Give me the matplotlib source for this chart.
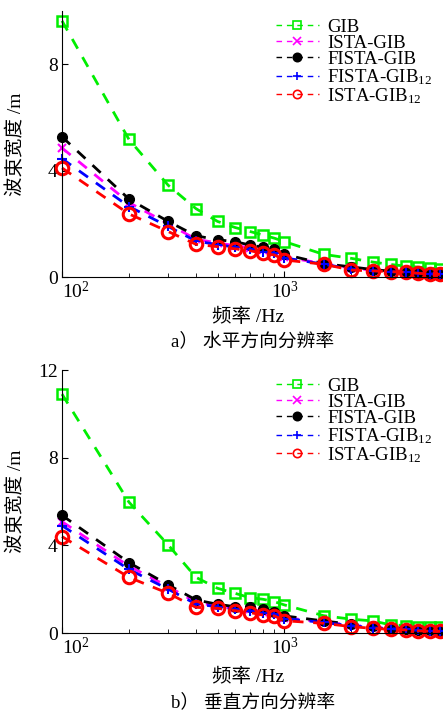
import numpy as np
import matplotlib
matplotlib.use("Agg")
import matplotlib.pyplot as plt
from matplotlib.ticker import FixedLocator, NullFormatter

plt.rcParams['font.family'] = ['Liberation Serif', 'Noto Sans CJK SC']
plt.rcParams['mathtext.fontset'] = 'custom'
plt.rcParams['mathtext.rm'] = 'Liberation Serif'
plt.rcParams['mathtext.it'] = 'Liberation Serif:italic'

# frequencies (Hz)
freq = [100, 200, 300, 400, 500, 600, 700, 800, 900, 1000,
        1500, 2000, 2500, 3000, 3500, 4000, 4500, 5000]

# a) horizontal resolution, beam width (m)
h_gib = [9.63, 5.17, 3.45, 2.57, 2.09, 1.86, 1.71, 1.58, 1.46, 1.33,
         0.85, 0.70, 0.56, 0.47, 0.41, 0.37, 0.33, 0.30]
h_ista = [4.85, 2.80, 2.00, 1.42, 1.28, 1.18, 1.10, 1.00, 0.95, 0.76,
          0.50, 0.33, 0.26, 0.21, 0.18, 0.15, 0.12, 0.10]
h_fista = [5.27, 2.93, 2.09, 1.55, 1.40, 1.33, 1.20, 1.12, 1.05, 0.85,
           0.50, 0.38, 0.28, 0.22, 0.18, 0.14, 0.12, 0.10]
h_fista12 = [4.45, 2.65, 1.90, 1.35, 1.22, 1.12, 1.05, 0.95, 0.90, 0.72,
             0.48, 0.30, 0.24, 0.20, 0.17, 0.14, 0.12, 0.10]
h_ista12 = [4.10, 2.37, 1.71, 1.23, 1.14, 1.06, 0.99, 0.89, 0.83, 0.64,
            0.48, 0.26, 0.23, 0.20, 0.18, 0.14, 0.11, 0.10]

# b) vertical resolution, beam width (m)
v_gib = [10.9, 5.97, 4.02, 2.54, 2.04, 1.81, 1.61, 1.54, 1.43, 1.28,
         0.79, 0.63, 0.55, 0.37, 0.34, 0.29, 0.26, 0.26]
v_ista = [5.08, 3.05, 2.12, 1.40, 1.22, 1.12, 1.08, 0.98, 0.90, 0.70,
          0.50, 0.36, 0.27, 0.22, 0.18, 0.14, 0.11, 0.09]
v_fista = [5.37, 3.21, 2.20, 1.51, 1.31, 1.20, 1.17, 1.08, 0.97, 0.78,
           0.55, 0.40, 0.30, 0.25, 0.20, 0.15, 0.12, 0.10]
v_fista12 = [4.90, 2.90, 2.00, 1.32, 1.20, 1.08, 1.02, 0.92, 0.86, 0.66,
             0.48, 0.33, 0.24, 0.20, 0.16, 0.12, 0.10, 0.08]
v_ista12 = [4.40, 2.54, 1.81, 1.17, 1.13, 1.02, 0.93, 0.82, 0.78, 0.56,
            0.44, 0.29, 0.21, 0.17, 0.14, 0.10, 0.08, 0.07]

labels = ['GIB', 'ISTA-GIB', 'FISTA-GIB', r'FISTA-GIB$_{12}$', r'ISTA-GIB$_{12}$']
colors = ['#00ee00', '#ff00ff', '#000000', '#0000ff', '#ff0000']
markers = ['s', 'x', 'o', '+', 'o']

W, H = 443, 721
fig = plt.figure(figsize=(W / 100, H / 100), dpi=100)

def px_axes(x0, y0, x1, y1):
    # pixel box (top-left origin) -> figure fraction
    return fig.add_axes([x0 / W, 1 - y1 / H, (x1 - x0) / W, (y1 - y0) / H])

def draw(ax, series, ymax, yticks):
    for i, ys in enumerate(series):
        kw = dict(color=colors[i], linestyle=(0, (4, 3.5)), linewidth=2,
                  marker=markers[i], label=labels[i], clip_on=False)
        if i == 0:
            kw.update(markersize=7, markerfacecolor='none', markeredgewidth=1.8)
        elif i == 1:
            kw.update(markersize=6, markeredgewidth=1.5)
        elif i == 2:
            kw.update(markersize=7, markerfacecolor='black')
        elif i == 3:
            kw.update(markersize=7, markeredgewidth=1.5)
        else:
            kw.update(markersize=9, markerfacecolor='none', markeredgewidth=2.2)
        ax.plot(freq, ys, **kw)
    ax.set_xscale('log')
    ax.set_xlim(100, 5000)
    ax.set_ylim(0, ymax)
    ax.set_yticks(yticks)
    ax.set_xticks([100, 1000])
    ax.set_xticklabels([r'$10^2$', r'$10^3$'])
    ax.xaxis.set_minor_locator(FixedLocator([200, 300, 400, 500, 600, 700, 800, 900,
                                             2000, 3000, 4000]))
    ax.xaxis.set_minor_formatter(NullFormatter())
    for s in ['top', 'right']:
        ax.spines[s].set_visible(False)
    ax.tick_params(which='both', direction='in', labelsize=14, pad=3)
    ax.tick_params(which='major', length=4)
    ax.tick_params(which='minor', length=3)
    ax.xaxis.get_majorticklabels()[0].set_horizontalalignment('left')
    ax.set_ylabel('波束宽度 /m', fontsize=14)
    ax.yaxis.set_label_coords(-0.098, 0.5)
    leg = ax.legend(loc='upper right', bbox_to_anchor=(1.0, 1.0), frameon=False,
                    fontsize=13.5, handlelength=2.3, labelspacing=-0.05,
                    handletextpad=0.45, borderaxespad=0.0)
    for h in leg.legend_handles:
        h.set_linewidth(1)
        h.set_markersize(6)
        h.set_markeredgewidth(1.2)

ax1 = px_axes(62, 11, 440, 277)
draw(ax1, [h_gib, h_ista, h_fista, h_fista12, h_ista12], 10, [0, 4, 8])
ax2 = px_axes(62, 370, 440, 633)
draw(ax2, [v_gib, v_ista, v_fista, v_fista12, v_ista12], 12, [0, 4, 8, 12])

fig.text(248 / W, 1 - 317 / H, '频率 /Hz', ha='center', va='center', fontsize=14)
fig.text(253 / W, 1 - 342 / H, 'a） 水平方向分辨率', ha='center', va='center', fontsize=13.5)
fig.text(248 / W, 1 - 677 / H, '频率 /Hz', ha='center', va='center', fontsize=14)
fig.text(253 / W, 1 - 702 / H, 'b） 垂直方向分辨率', ha='center', va='center', fontsize=13.5)

fig.savefig('out.png', dpi=100)
